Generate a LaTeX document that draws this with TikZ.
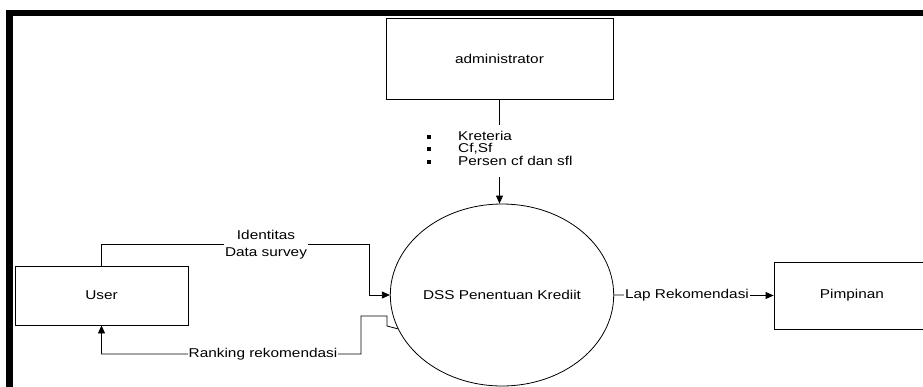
\documentclass[tikz,border=0pt]{standalone}
\usepackage{fontspec}
\setmainfont[FakeStretch=1.2]{Liberation Sans}
\usetikzlibrary{shapes.geometric,arrows.meta}
\newcommand\mybul{\makebox[31pt][l]{\raisebox{1.5pt}{\rule{4pt}{4pt}}}}
\begin{document}
\begin{tikzpicture}[x=1pt,y=-1pt,
  every node/.style={font=\fontsize{12.8pt}{14pt}\selectfont},
  entity/.style={draw, line width=0.8pt, rectangle, inner sep=0pt},
  process/.style={draw, line width=0.8pt, ellipse, inner sep=0pt, minimum width=214pt, minimum height=182pt},
  flow/.style={line width=0.8pt},
  flowarrow/.style={line width=0.8pt, -{Triangle[length=8pt,width=7pt]}},
  lbl/.style={fill=white, inner sep=1pt},
  crit/.style={anchor=base west, inner sep=0pt}]
\useasboundingbox (0,0) rectangle (923,386);
\clip (0,0) rectangle (923,386);
% frame
\fill[black] (6,10) rectangle (935,16);
\fill[black] (6,10) rectangle (13,395);
% entities
\node[entity, minimum width=227pt, minimum height=81pt] (admin) at (499.5,58.5) {administrator};
\node[entity, minimum width=173pt, minimum height=59pt] (user) at (101.5,295.5) {User};
\node[entity, minimum width=156pt, minimum height=67pt] (pimp) at (852,295.5) {Pimpinan};
\node[process] (dss) at (502,295) {DSS Penentuan Krediit};
% admin flow
\coordinate (a1) at (499.5,125);
\coordinate (a2) at (499.5,177);
\draw[flow] (admin.south) -- (a1);
\node[crit] (crit1) at (427,140) {\mybul Kreteria};
\node[crit] (crit2) at (427,152.5) {\mybul Cf,Sf};
\node[crit] (crit3) at (427,165) {\mybul Persen cf dan sfl};
\draw[flowarrow] (a2) -- (a2 |- dss.north);
% user -> dss
\coordinate (b1) at (369,244);
\draw[flowarrow] (user.north) |- (b1) |- (dss.west);
\node[lbl, align=center, anchor=base, font=\fontsize{12.8pt}{17pt}\selectfont] (ident) at (266,256) {Identitas\\Data survey};
% dss -> user
\coordinate (c1) at (387,326);
\coordinate (c2) at (387,316);
\coordinate (c3) at (361,316);
\coordinate (c4) at (361,354);
\draw[flowarrow] (dss.198) -- (c1) -- (c2) -- (c3) -- (c4) -| (user.south);
\node[lbl] (rank) at (263,354) {Ranking rekomendasi};
% dss -> pimpinan
\draw[flowarrow] (dss.east) -- (pimp.west);
\node[lbl] (lap) at (687,295.5) {Lap Rekomendasi};
\end{tikzpicture}
\end{document}
